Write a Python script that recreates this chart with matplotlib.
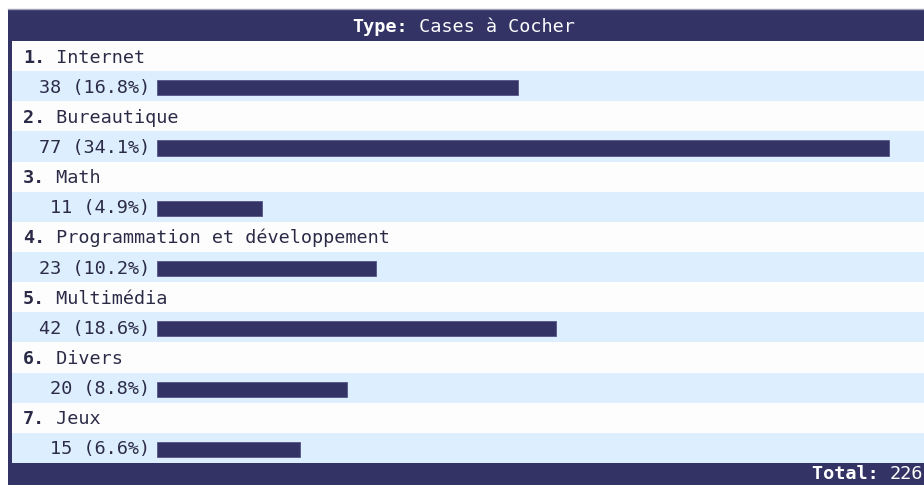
import matplotlib.pyplot as plt
from matplotlib.patches import Rectangle

# poll results
categories = ["Internet", "Bureautique", "Math", "Programmation et développement",
              "Multimédia", "Divers", "Jeux"]
counts = [38, 77, 11, 23, 42, 20, 15]
total = 226
question_type = "Cases à Cocher"

navy = "#333366"
light = "#DDEEFF"
ink = "#2b2b48"
W, H = 924, 487
top, row_h = 41, 30.14  # pixels
n_rows = 2 * len(categories)
fs = 13.3
plt.rcParams["font.family"] = "DejaVu Sans Mono"

fig = plt.figure(figsize=(W / 100, H / 100), dpi=100)
ax = fig.add_axes([0, 0, 1, 1])
ax.set_xlim(0, W)
ax.set_ylim((H - top) / row_h, -top / row_h)
ax.axis("off")

# header, footer, left border
ax.add_patch(Rectangle((8, -31 / row_h), W, 31 / row_h, color=navy, lw=0))
ax.plot([8, W], [-31.5 / row_h] * 2, color="#a0a0b8", lw=1)
ax.add_patch(Rectangle((8, n_rows), W, 22 / row_h, color=navy, lw=0))
ax.add_patch(Rectangle((8, 0), 4, n_rows, color=navy, lw=0))

# alternating rows
for i in range(n_rows):
    ax.add_patch(Rectangle((12, i), W, 1, color="#FDFDFD" if i % 2 == 0 else light, lw=0))

# header / footer text
t = ax.text(352, -14.5 / row_h, "Type:", color="white", fontsize=fs, fontweight="bold",
            va="center")
ax.annotate(" " + question_type, xy=(1, 0), xycoords=t, va="bottom", color="white", fontsize=fs)
t = ax.text(W - 1, n_rows + 11 / row_h, str(total), color="white", fontsize=fs,
            ha="right", va="center")
ax.annotate("Total: ", xy=(0, 0), xycoords=t, va="bottom", ha="right", color="white",
            fontsize=fs, fontweight="bold")

# labels
for i, (name, c) in enumerate(zip(categories, counts)):
    t = ax.text(23, 2 * i + 0.55, f"{i + 1}.", fontsize=fs, fontweight="bold",
                color=ink, va="center")
    ax.annotate(" " + name, xy=(1, 0), xycoords=t, va="bottom", fontsize=fs, color=ink)
    ax.text(150, 2 * i + 1.55, f"{c} ({100 * c / total:.1f}%)", fontsize=fs,
            color=ink, ha="right", va="center")

# bars
bx = fig.add_axes([157 / W, 0, 1 - 157 / W, 1], sharey=ax)
bx.set_xlim(0, (W - 157) / 9.5)
bx.barh([2 * i + 1.55 for i in range(len(counts))], counts, height=0.5,
        color=navy, edgecolor="#555588", linewidth=0.6)
bx.axis("off")
bx.patch.set_visible(False)

plt.savefig("out.png", dpi=100)
